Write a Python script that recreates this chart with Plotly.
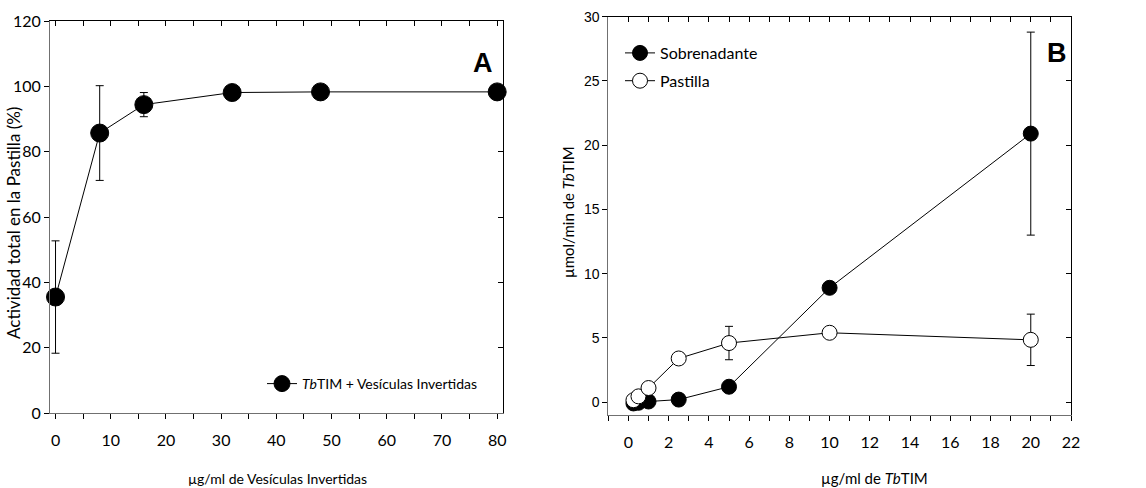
import plotly.graph_objects as go

W, H = 1146, 488

# ---------------- data ----------------
# Panel A
a_x = [0, 8, 16, 32, 48, 80]
a_y = [35.5, 85.7, 94.4, 98.1, 98.3, 98.3]
a_err = [17.2, 14.5, 3.7, 0, 0, 0]
a_name = "<i>Tb</i>TIM + Vesículas Invertidas"

# Panel B
b_x = [0.25, 0.5, 1, 2.5, 5, 10, 20]
b_sob = [-0.1, -0.05, 0.05, 0.2, 1.2, 8.9, 20.9]
b_sob_err = [0, 0, 0, 0, 0, 0, 7.9]
b_pas = [0.15, 0.45, 1.1, 3.4, 4.6, 5.4, 4.85]
b_pas_err = [0, 0, 0, 0, 1.3, 0, 2.0]

a_xticks = [0, 10, 20, 30, 40, 50, 60, 70, 80]
a_yticks = [0, 20, 40, 60, 80, 100, 120]
b_xticks = [0, 2, 4, 6, 8, 10, 12, 14, 16, 18, 20, 22]
b_yticks = [0, 5, 10, 15, 20, 25, 30]

NARROW = "Lato, Open Sans, sans-serif"
ARIAL = "Liberation Sans, Arial, sans-serif"

def px_x(p):
    return p / W

def px_y(p):
    return 1 - p / H

fig = go.Figure()

fig.add_trace(go.Scatter(
    x=a_x, y=a_y, mode="lines+markers", name=a_name,
    xaxis="x", yaxis="y", cliponaxis=False,
    line=dict(color="black", width=1),
    marker=dict(size=18, color="black", line=dict(color="black", width=1)),
    error_y=dict(type="data", array=a_err, visible=True, color="black", thickness=1, width=4),
    legend="legend",
))

fig.add_trace(go.Scatter(
    x=b_x, y=b_sob, mode="lines+markers", name="Sobrenadante",
    xaxis="x2", yaxis="y2", cliponaxis=False, legendgroup="s",
    line=dict(color="black", width=1),
    marker=dict(size=15, color="black", line=dict(color="black", width=1)),
    error_y=dict(type="data", array=b_sob_err, visible=True, color="black", thickness=1, width=4),
    legend="legend2",
))
fig.add_trace(go.Scatter(
    x=b_x, y=b_pas, mode="lines+markers", name="Pastilla",
    xaxis="x2", yaxis="y2", cliponaxis=False, legendgroup="p",
    line=dict(color="black", width=1),
    marker=dict(size=15, color="white", line=dict(color="black", width=1)),
    error_y=dict(type="data", array=b_pas_err, visible=True, color="black", thickness=1, width=4),
    legend="legend2",
))

# dummy traces to register the mirror (top/right) axes
fig.add_trace(go.Scatter(x=[None], y=[None], xaxis="x3", yaxis="y3", showlegend=False, hoverinfo="skip"))
fig.add_trace(go.Scatter(x=[None], y=[None], xaxis="x4", yaxis="y4", showlegend=False, hoverinfo="skip"))

a_dx = [px_x(50), px_x(502.7)]
a_dy = [px_y(413), px_y(21)]
b_dx = [px_x(608.3), px_x(1071)]
b_dy = [px_y(415), px_y(16.7)]

base = dict(showgrid=False, zeroline=False, showline=True, linewidth=1, automargin=False)

fig.update_layout(
    template="none",
    width=W, height=H,
    margin=dict(l=0, r=0, t=0, b=0, pad=0, autoexpand=False),
    paper_bgcolor="white", plot_bgcolor="white",
    font=dict(family=NARROW, color="black"),
    xaxis=dict(**base, domain=a_dx, range=[-1, 81], anchor="y", linecolor="#707070",
               tickmode="array", tickvals=a_xticks, ticks="outside", ticklen=5, tickcolor="black",
               minor=dict(dtick=5, tick0=0, ticks="outside", ticklen=5, tickcolor="black"),
               tickfont=dict(family=NARROW, size=16), ticklabelstandoff=8),
    yaxis=dict(**base, domain=a_dy, range=[0, 120], anchor="x", linecolor="#707070",
               tickmode="array", tickvals=a_yticks, ticks="outside", ticklen=5, tickcolor="black",
               tickfont=dict(family=NARROW, size=16)),
    xaxis3=dict(**base, overlaying="x", side="top", anchor="y", range=[-1, 81], linecolor="black",
                tickmode="array", tickvals=a_xticks, ticks="inside", ticklen=5, tickcolor="black",
                minor=dict(dtick=5, tick0=0, ticks="inside", ticklen=5, tickcolor="black"),
                showticklabels=False),
    yaxis3=dict(**base, overlaying="y", side="right", anchor="x", range=[0, 120], linecolor="black",
                tickmode="array", tickvals=a_yticks, ticks="inside", ticklen=5, tickcolor="black",
                showticklabels=False),
    xaxis2=dict(**base, domain=b_dx, range=[-1, 22], anchor="y2", linecolor="#707070",
                tickmode="array", tickvals=b_xticks, ticks="outside", ticklen=5, tickcolor="black",
                minor=dict(dtick=1, tick0=0, ticks="outside", ticklen=5, tickcolor="black"),
                tickfont=dict(family=NARROW, size=16), ticklabelstandoff=8),
    yaxis2=dict(**base, domain=b_dy, range=[-1, 30], anchor="x2", linecolor="#707070",
                tickmode="array", tickvals=b_yticks, ticks="outside", ticklen=5, tickcolor="black",
                tickfont=dict(family=ARIAL, size=14)),
    xaxis4=dict(**base, overlaying="x2", side="top", anchor="y2", range=[-1, 22], linecolor="black",
                tickmode="array", tickvals=b_xticks, ticks="inside", ticklen=5, tickcolor="black",
                minor=dict(dtick=1, tick0=0, ticks="inside", ticklen=5, tickcolor="black"),
                showticklabels=False),
    yaxis4=dict(**base, overlaying="y2", side="right", anchor="x2", range=[-1, 30], linecolor="black",
                tickmode="array", tickvals=b_yticks, ticks="inside", ticklen=5, tickcolor="black",
                showticklabels=False),
    legend=dict(x=px_x(262), y=px_y(384), xanchor="left", yanchor="middle",
                bgcolor="rgba(0,0,0,0)", font=dict(family=NARROW, size=14), itemwidth=30),
    legend2=dict(x=px_x(620), y=px_y(36), xanchor="left", yanchor="top",
                 bgcolor="rgba(0,0,0,0)", font=dict(family=NARROW, size=16), itemwidth=30,
                 tracegroupgap=4),
    showlegend=True,
)

annotations = [
    dict(text="<b>A</b>", x=px_x(483), y=px_y(63), font=dict(family=ARIAL, size=27)),
    dict(text="<b>B</b>", x=px_x(1057), y=px_y(53), font=dict(family=ARIAL, size=27)),
    dict(text="Actividad total en la Pastilla (%)", x=px_x(13), y=px_y(223), textangle=-90,
         font=dict(family=NARROW, size=17)),
    dict(text="µg/ml de Vesículas Invertidas", x=px_x(277), y=px_y(478),
         font=dict(family=NARROW, size=14)),
    dict(text="µmol/min de <i>Tb</i>TIM", x=px_x(568), y=px_y(212), textangle=-90,
         font=dict(family=NARROW, size=15)),
    dict(text="µg/ml de <i>Tb</i>TIM", x=px_x(874), y=px_y(478),
         font=dict(family=NARROW, size=15)),
]
for a in annotations:
    a.update(xref="paper", yref="paper", showarrow=False, xanchor="center", yanchor="middle")
fig.update_layout(annotations=annotations)

fig.write_html("out.html")
